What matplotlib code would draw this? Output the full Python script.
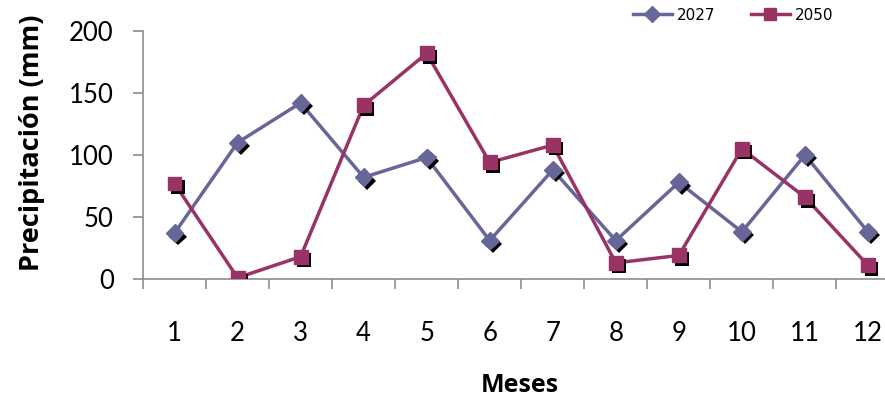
import matplotlib
matplotlib.use("Agg")
import matplotlib.pyplot as plt
import matplotlib.patheffects as pe
from matplotlib.lines import Line2D
import numpy as np

months = [1, 2, 3, 4, 5, 6, 7, 8, 9, 10, 11, 12]
s2027 = [37, 110, 142, 82, 98, 31, 88, 31, 78, 38, 100, 38]
s2050 = [77, 1, 18, 140, 182, 94, 108, 13, 19, 105, 66, 11]
yticks = [0, 50, 100, 150, 200]

c27 = "#666699"
c50 = "#993366"
font = "Lato"

fig = plt.figure(figsize=(8.85, 4.0), dpi=100)
ax = fig.add_axes([143/885, 121/400, (899.5-143)/885, 248/400])

shadow = [pe.SimplePatchShadow(offset=(2.5, -2.5), shadow_rgbFace="black", alpha=1.0), pe.Normal()]

ax.plot(months, s2027, color=c27, lw=2.5, zorder=2)
ax.plot(months, s2050, color=c50, lw=2.5, zorder=2)
ax.plot(months, s2027, ls="none", marker="D", ms=9, color=c27, mec=c27, zorder=3, path_effects=shadow)
ax.plot(months, s2050, ls="none", marker="s", ms=10, color=c50, mec=c50, zorder=3, path_effects=shadow)

ax.set_xlim(0.5, 12.5)
ax.set_ylim(0, 200)
ax.set_yticks(yticks)
ax.set_yticklabels([str(v) for v in yticks], fontsize=18.5, family=font)
ax.set_xticks(months)
ax.set_xticklabels([str(m) for m in months], fontsize=18.5, family=font)
ax.set_xticks(np.arange(0.5, 13, 1), minor=True)
ax.tick_params(axis="x", which="major", length=0, pad=30)
ax.tick_params(axis="x", which="minor", length=7.5, color="#8c8c8c", width=1.2)
ax.tick_params(axis="y", length=7, color="#8c8c8c", width=1.2, pad=14)
for s in ["top", "right"]:
    ax.spines[s].set_visible(False)
for s in ["left", "bottom"]:
    ax.spines[s].set_color("#8c8c8c")
    ax.spines[s].set_linewidth(1.2)

fig.text(32/885, 1 - 143/400, "Precipitación (mm)", rotation=90, ha="center", va="center",
         fontsize=19.5, fontweight="bold", family="Open Sans")
fig.text(520/885, 1 - 385/400, "Meses", ha="center", va="center", fontsize=18, fontweight="bold", family="Open Sans")

h1 = Line2D([], [], color=c27, lw=2.5, marker="D", ms=8)
h2 = Line2D([], [], color=c50, lw=2.5, marker="s", ms=8)
fig.legend([h1, h2], ["2027", "2050"], loc="center", bbox_to_anchor=(733/885, 1 - 15/400), ncol=2,
           frameon=False, prop={"family": "DejaVu Sans", "size": 11}, handlelength=2.6,
           columnspacing=2.3, handletextpad=0.3)

fig.savefig("out.png", dpi=100)
